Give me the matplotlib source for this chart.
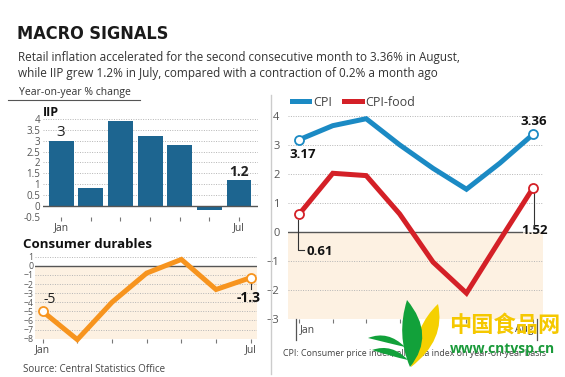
import matplotlib
matplotlib.use('Agg')
import matplotlib.pyplot as plt
from matplotlib import font_manager
from matplotlib.lines import Line2D
from matplotlib.patches import PathPatch
from matplotlib.path import Path
import numpy as np

plt.rcParams['font.family'] = ['Open Sans', 'DejaVu Sans']

# data
iip_months = ['Jan', 'Feb', 'Mar', 'Apr', 'May', 'Jun', 'Jul']
iip_values = [3.0, 0.8, 3.9, 3.2, 2.8, -0.2, 1.2]

durables_values = [-5.0, -8.1, -4.0, -0.8, 0.7, -2.6, -1.3]

cpi_months = ['Jan', 'Feb', 'Mar', 'Apr', 'May', 'Jun', 'Jul', 'Aug']
cpi_values = [3.17, 3.65, 3.89, 2.99, 2.18, 1.46, 2.36, 3.36]
cpi_food_values = [0.61, 2.01, 1.93, 0.61, -1.05, -2.12, -0.29, 1.52]

W, H = 565, 377
BAR_C = '#1d6590'
CPI_C = '#1b8ac4'
FOOD_C = '#d42027'
ORANGE = '#f7941e'
SHADE = '#fdf1e2'
GRID = '#b5b5b5'
TXT = '#333333'


def box(l, t, r, b):
    return [l / W, 1 - b / H, (r - l) / W, (b - t) / H]


def fx(x):
    return x / W


def fy(y):
    return 1 - y / H


def condensed_bold():
    # look for an installed bold condensed face for the headline
    rank = {'extra-condensed': 0, 'condensed': 1, 'semi-condensed': 2}
    cands = []
    for f in font_manager.fontManager.ttflist:
        w = f.weight if isinstance(f.weight, int) else font_manager.weight_dict.get(f.weight, 400)
        st = f.stretch if isinstance(f.stretch, str) else 'normal'
        if 'Narrow' in f.name:
            st = 'condensed'
        if st not in rank or 'Italic' in f.fname or 'Oblique' in f.fname:
            continue
        if w < 600:
            continue
        cands.append((rank[st], abs(w - 700), f.fname))
    if cands:
        cands.sort()
        return font_manager.FontProperties(fname=cands[0][2], size=16.5)
    return font_manager.FontProperties(family='Roboto', weight='bold', size=15)


def style(ax, ylabels_size=7.5):
    for s in ax.spines.values():
        s.set_visible(False)
    ax.tick_params(axis='y', length=0, labelsize=ylabels_size, colors='#555555', pad=2)
    ax.tick_params(axis='x', length=3, width=0.8, color='#777777', labelsize=7.5,
                   labelcolor='#444444', pad=1)
    ax.grid(axis='y', linestyle=(0, (1, 1.5)), color=GRID, linewidth=0.7)
    ax.set_axisbelow(True)


def leaf(pts, color, z):
    codes = [Path.MOVETO] + [Path.CURVE3] * (len(pts) - 1)
    verts = [(fx(x), fy(y)) for x, y in pts]
    return PathPatch(Path(verts, codes), facecolor=color, edgecolor='none', zorder=z,
                     transform=fig.transFigure)


fig = plt.figure(figsize=(5.65, 3.77), dpi=100)

# header
title = fig.text(fx(17), fy(34), 'MACRO SIGNALS', fontproperties=condensed_bold(),
                 color='#1a1a1a', va='center')
tw = title.get_window_extent(fig.canvas.get_renderer()).width
if tw > 152:
    title.set_fontsize(title.get_fontsize() * 151 / tw)
fig.text(fx(18), fy(58), 'Retail inflation accelerated for the second consecutive month to 3.36% in August,',
         fontsize=8.5, color=TXT, va='center')
fig.text(fx(18), fy(73), 'while IIP grew 1.2% in July, compared with a contraction of 0.2% a month ago',
         fontsize=8.5, color=TXT, va='center')
fig.text(fx(19), fy(93), 'Year-on-year % change', fontsize=7.5, color=TXT, va='center')
fig.add_artist(Line2D([fx(8), fx(140)], [fy(100), fy(100)], color='#555555', lw=0.8))
fig.add_artist(Line2D([fx(270.5), fx(270.5)], [fy(95), fy(374)], color='#cccccc', lw=1))

# IIP bars
ax1 = fig.add_axes(box(43, 116.8, 258, 216.7))
x1 = np.arange(len(iip_values))
ax1.bar(x1, iip_values, width=0.84, color=BAR_C, zorder=2)
ax1.axhline(0, color='#555555', lw=1, zorder=3)
ax1.set_ylim(-0.5, 4.1)
ax1.set_xlim(-0.61, 6.64)
yt = np.arange(-0.5, 4.01, 0.5)
ax1.set_yticks(yt)
ax1.set_yticklabels(['{:g}'.format(v) for v in yt])
ax1.set_xticks(x1)
ax1.set_xticklabels(['Jan', '', '', '', '', '', 'Jul'])
style(ax1, 7)
ax1.text(x1[0], iip_values[0] + 0.02, '3', ha='center', va='bottom', fontsize=11, color='#222222')
ax1.text(x1[-1], iip_values[-1] + 0.05, '1.2', ha='center', va='bottom', fontsize=10,
         fontweight='bold', color='#222222')
fig.text(fx(43), fy(112), 'IIP', fontsize=9, fontweight='bold', color='#111111', va='center')

# Consumer durables
ax2 = fig.add_axes(box(35, 253.5, 257, 338.7))
x2 = np.arange(len(durables_values))
ax2.axhspan(-8, 0, color=SHADE, zorder=0, lw=0)
ax2.plot(x2, durables_values, color=ORANGE, lw=3.6, solid_joinstyle='miter', zorder=3, clip_on=False)
ax2.plot([x2[0], x2[-1]], [durables_values[0], durables_values[-1]], 'o', ms=6.5,
         mfc='white', mec=ORANGE, mew=1.3, zorder=4, clip_on=False)
ax2.axhline(0, color='#555555', lw=1, zorder=2)
ax2.set_ylim(-8, 1.35)
ax2.set_xlim(-0.22, 6.18)
ax2.set_yticks(np.arange(-8, 2))
ax2.set_xticks(x2)
ax2.set_xticklabels(['Jan', '', '', '', '', '', 'Jul'])
style(ax2, 6.3)
ax2.tick_params(axis='y', pad=1)
ax2.text(x2[0] + 0.02, durables_values[0] + 0.5, '-5', ha='left', va='bottom', fontsize=10, color='#222222')
ax2.plot([x2[-1], x2[-1]], [durables_values[-1] - 0.4, durables_values[-1] - 1.2], color='#333333', lw=0.8)
ax2.text(x2[-1] - 0.05, durables_values[-1] - 2.2, '-1.3', ha='center', va='center', fontsize=10,
         fontweight='bold', color='#111111')
fig.text(fx(23), fy(245), 'Consumer durables', fontsize=9.5, fontweight='bold', color='#111111', va='center')
fig.text(fx(23), fy(369), 'Source: Central Statistics Office', fontsize=7, color='#444444', va='center')

# CPI lines
ax3 = fig.add_axes(box(288, 110, 543, 318.7))
x3 = np.arange(len(cpi_values))
ax3.axhspan(-3, 0, color=SHADE, zorder=0, lw=0)
ax3.plot(x3, cpi_values, color=CPI_C, lw=3.6, solid_joinstyle='miter', zorder=3)
ax3.plot(x3, cpi_food_values, color=FOOD_C, lw=3.6, solid_joinstyle='miter', zorder=3)
for vals, c in [(cpi_values, CPI_C), (cpi_food_values, FOOD_C)]:
    ax3.plot([x3[0], x3[-1]], [vals[0], vals[-1]], 'o', ms=6.5, mfc='white', mec=c, mew=1.3,
             zorder=5, clip_on=False)
ax3.axhline(0, xmax=0.916, color='#555555', lw=1, zorder=2)
ax3.set_ylim(-3, 4.19)
ax3.set_xlim(-0.34, 7.29)
ax3.set_yticks(np.arange(-3, 5))
ax3.set_xticks(x3)
ax3.set_xticklabels(['Jan', '', '', '', '', '', '', 'Aug'])
style(ax3, 8)
ax3.tick_params(axis='y', pad=6)
for lab, ha in zip([ax3.get_xticklabels()[0], ax3.get_xticklabels()[-1]], ['left', 'right']):
    lab.set_ha(ha)
ax3.plot([-0.1, -0.1], [-3, -3.75], color='#555555', lw=0.9, clip_on=False)
ax3.plot([7.12, 7.12], [-3, -3.75], color='#555555', lw=0.9, clip_on=False)
ax3.text(x3[0] + 0.1, cpi_values[0] - 0.5, '3.17', ha='center', va='center', fontsize=9.5,
         fontweight='bold', color='#111111')
ax3.text(x3[-1], cpi_values[-1] + 0.42, '3.36', ha='center', va='center', fontsize=9.5,
         fontweight='bold', color='#111111')
ax3.plot([x3[0] - 0.04, x3[0] - 0.04, x3[0] + 0.15], [cpi_food_values[0] - 0.2, -0.63, -0.63],
         color='#333333', lw=0.8, zorder=4)
ax3.text(x3[0] + 0.2, -0.7, '0.61', ha='left', va='center', fontsize=9.5, fontweight='bold', color='#111111')
ax3.plot([x3[-1] + 0.02, x3[-1] + 0.02], [cpi_food_values[-1] - 0.2, 0.2], color='#333333', lw=0.8, zorder=4)
ax3.text(x3[-1] - 0.35, 0.05, '1.52', ha='left', va='center', fontsize=9.5, fontweight='bold',
         color='#111111')
handles = [Line2D([], [], color=CPI_C, lw=3.6), Line2D([], [], color=FOOD_C, lw=3.6)]
ax3.legend(handles, ['CPI', 'CPI-food'], ncol=2, frameon=False, loc='lower left',
           bbox_to_anchor=(0.01, 1.0), borderaxespad=0, borderpad=0.1, handlelength=1.4,
           handletextpad=0.3, columnspacing=1.0, prop={'size': 9})
for t in ax3.get_legend().get_texts():
    t.set_color('#444444')
fig.text(fx(283), fy(353), 'CPI: Consumer price index; all-India index on year-on-year basis',
         fontsize=6.4, color='#444444', va='center')

# watermark
fig.add_artist(leaf([(407, 300), (396, 335), (410, 367), (436, 335), (407, 300)], '#12a13a', 10))
fig.add_artist(leaf([(438, 304), (415, 325), (411, 367), (446, 340), (438, 304)], '#f5d000', 9))
fig.add_artist(leaf([(368, 338), (388, 330), (405, 347), (388, 343), (368, 338)], '#12a13a', 10))
fig.add_artist(leaf([(372, 350), (392, 343), (408, 360), (390, 356), (372, 350)], '#12a13a', 10))
fig.text(fx(505), fy(325), '中国食品网', fontsize=16, fontweight='bold', color='#f5c800',
         family=['Noto Sans CJK SC', 'DejaVu Sans'], ha='center', va='center', zorder=11)
fig.text(fx(502), fy(349), 'www.cntvsp.cn', fontsize=10, fontweight='bold', color='#1a9a3a',
         ha='center', va='center', zorder=11)

fig.savefig('out.png', dpi=100)
